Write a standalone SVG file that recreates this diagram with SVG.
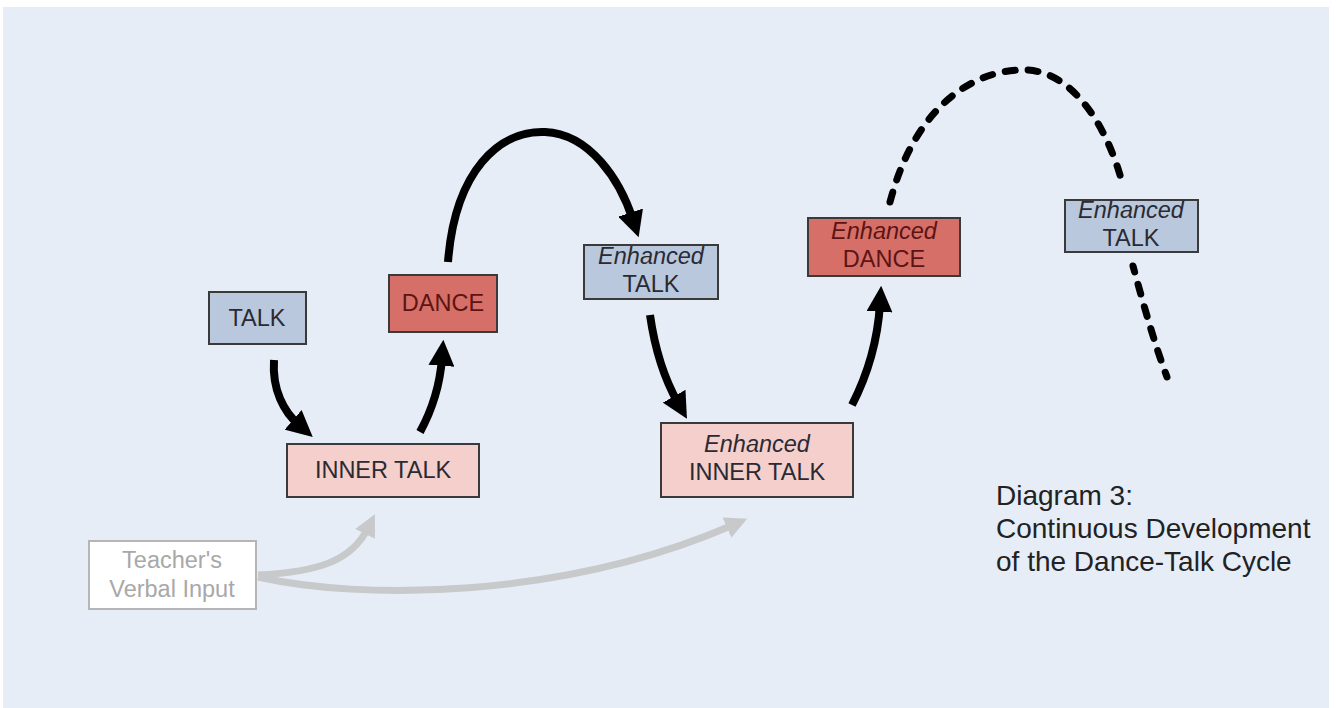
<svg xmlns="http://www.w3.org/2000/svg" width="1336" height="708" viewBox="0 0 1336 708">
<style>
.box{stroke:#3a3a3a;stroke-width:2}
.talk{fill:#b9c8dc}
.dance{fill:#d66f67}
.inner{fill:#f4cfcc}
.t{font-family:"Liberation Sans",Arial,sans-serif;font-size:23.5px;text-anchor:middle}
.it{font-style:italic}
.dk{fill:#2a2a33}
.rd{fill:#5c1414}
.flow{fill:none;stroke:#000;stroke-width:8;stroke-linecap:butt}
.gray{fill:none;stroke:#c7c9cb;stroke-width:7}
.dash{fill:none;stroke:#000;stroke-width:7;stroke-linecap:round;stroke-dasharray:10 13}
.cap{font-family:"Liberation Sans",Arial,sans-serif;font-size:28px;fill:#222}
</style>
<defs>
<marker id="ah" viewBox="0 0 10 10" refX="3" refY="5" markerWidth="26" markerHeight="26" markerUnits="userSpaceOnUse" orient="auto"><path d="M0,0 L10,5 L0,10 z" fill="#000"/></marker>
<marker id="gh" viewBox="0 0 10 10" refX="3" refY="5" markerWidth="22" markerHeight="22" markerUnits="userSpaceOnUse" orient="auto"><path d="M0,0 L10,5 L0,10 z" fill="#c7c9cb"/></marker>
</defs>
<rect x="0" y="0" width="1336" height="708" fill="#ffffff"/>
<rect x="3" y="7" width="1326" height="701" fill="#e6edf7"/>
<g id="connectors">
<path class="gray" d="M258,575 C 320,572 352,560 368,528" marker-end="url(#gh)"/>
<path class="gray" d="M258,577 C 360,600 560,600 733,525" marker-end="url(#gh)"/>
<path class="flow" d="M274,360 C 272,390 284,412 299,425" marker-end="url(#ah)"/>
<path class="flow" d="M420,432 C 432,410 440,385 442,358" marker-end="url(#ah)"/>
<path class="flow" d="M448,262 C 455,170 500,130 545,132 C 590,134 620,180 633,220" marker-end="url(#ah)"/>
<path class="flow" d="M650,315 C 655,350 665,380 678,403" marker-end="url(#ah)"/>
<path class="flow" d="M852,405 C 870,370 878,335 880,304" marker-end="url(#ah)"/>
<path class="dash" d="M890,202 C 918,95 985,68 1027,70 C 1070,72 1105,120 1122,182"/>
<path class="dash" d="M1133,266 C 1145,310 1155,345 1167,377" stroke-dashoffset="4"/>
</g>
<g id="talk">
<rect class="box talk" x="209" y="292" width="97" height="52"/>
<text class="t dk" x="257" y="326">TALK</text>
</g>
<g id="dance">
<rect class="box dance" x="389" y="275" width="108" height="57"/>
<text class="t rd" x="443" y="311">DANCE</text>
</g>
<g id="inner-talk">
<rect class="box inner" x="287" y="444" width="192" height="53"/>
<text class="t dk" x="383" y="478">INNER TALK</text>
</g>
<g id="enhanced-talk-1">
<rect class="box talk" x="584" y="245" width="134" height="54"/>
<text class="t dk it" x="651" y="264">Enhanced</text>
<text class="t dk" x="651" y="292">TALK</text>
</g>
<g id="enhanced-inner-talk">
<rect class="box inner" x="661" y="423" width="192" height="74"/>
<text class="t dk it" x="757" y="452">Enhanced</text>
<text class="t dk" x="757" y="480">INNER TALK</text>
</g>
<g id="enhanced-dance">
<rect class="box dance" x="808" y="218" width="152" height="58"/>
<text class="t rd it" x="884" y="239">Enhanced</text>
<text class="t rd" x="884" y="267">DANCE</text>
</g>
<g id="enhanced-talk-2">
<rect class="box talk" x="1065" y="200" width="133" height="52"/>
<text class="t dk it" x="1131" y="218">Enhanced</text>
<text class="t dk" x="1131" y="246">TALK</text>
</g>
<g id="teacher">
<rect x="89" y="541" width="167" height="68" fill="#ffffff" stroke="#b5b5b5" stroke-width="2"/>
<text class="t" x="172" y="568" fill="#a8a8a8" font-size="22">Teacher's</text>
<text class="t" x="172" y="597" fill="#a8a8a8" font-size="22">Verbal Input</text>
</g>
<g id="caption">
<text class="cap" x="996" y="505">Diagram 3:</text>
<text class="cap" x="996" y="538">Continuous Development</text>
<text class="cap" x="996" y="571">of the Dance-Talk Cycle</text>
</g>
</svg>
